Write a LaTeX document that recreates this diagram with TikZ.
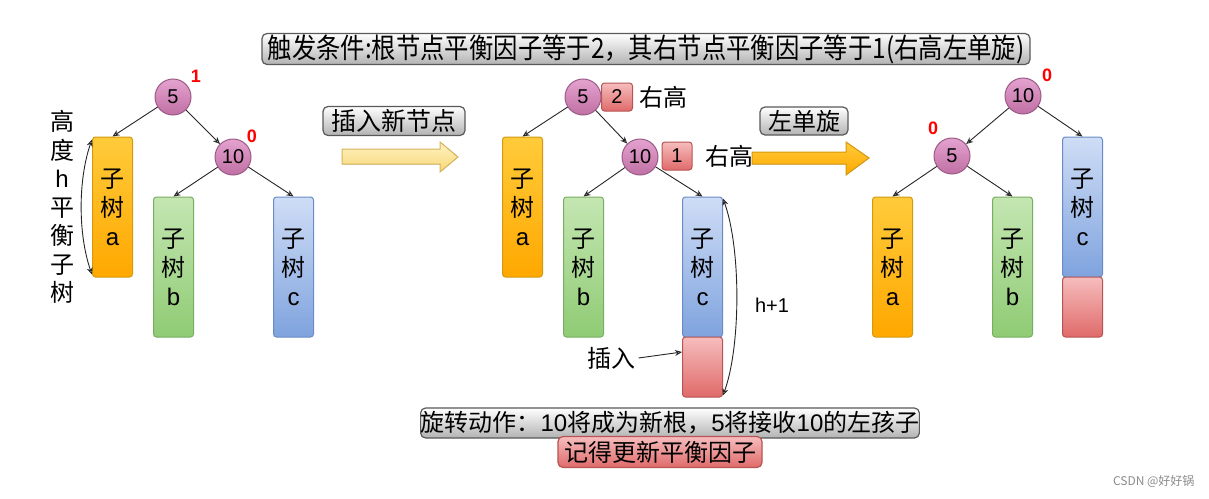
\documentclass[tikz,border=0pt]{standalone}
\usepackage{fontspec}
\setmainfont{Noto Sans CJK SC}
\newfontfamily\lat{Liberation Sans}
\usetikzlibrary{arrows.meta}
\definecolor{pinktop}{HTML}{E4A2CF}
\definecolor{pinkbot}{HTML}{C070A4}
\definecolor{pinkline}{HTML}{9C5A86}
\definecolor{ortop}{HTML}{FFCB3A}
\definecolor{orbot}{HTML}{FFA800}
\definecolor{orline}{HTML}{D39A10}
\definecolor{grtop}{HTML}{C4E6B2}
\definecolor{grbot}{HTML}{8FCB74}
\definecolor{grline}{HTML}{78AE62}
\definecolor{bltop}{HTML}{CFDDF6}
\definecolor{blbot}{HTML}{7FA3DE}
\definecolor{blline}{HTML}{6A8BC6}
\definecolor{rdtop}{HTML}{F6BDBD}
\definecolor{rdbot}{HTML}{E06A6A}
\definecolor{rdline}{HTML}{B85454}
\definecolor{yltop}{HTML}{FFF3C4}
\definecolor{ylbot}{HTML}{F7D676}
\definecolor{ylline}{HTML}{D6B45A}
\tikzset{
  circ/.style={circle, draw=pinkline, line width=1pt, top color=pinktop, bottom color=pinkbot,
    minimum size=36pt, inner sep=0pt, font=\lat\fontsize{20}{20}\selectfont},
  tree/.style={rectangle, rounded corners=3pt, line width=1pt, minimum width=40pt,
    minimum height=140pt, align=center, inner sep=0pt, font=\fontsize{24}{29}\selectfont},
  ta/.style={tree, draw=orline, top color=ortop, bottom color=orbot},
  tb/.style={tree, draw=grline, top color=grtop, bottom color=grbot},
  tc/.style={tree, draw=blline, top color=bltop, bottom color=blbot},
  tred/.style={rectangle, rounded corners=3pt, line width=1pt, minimum width=40pt,
    minimum height=60pt, draw=rdline, top color=rdtop, bottom color=rdbot},
  bf/.style={rectangle, rounded corners=3pt, line width=1pt, minimum width=31pt,
    minimum height=28pt, inner sep=0pt, draw=rdline, top color=rdtop, bottom color=rdbot,
    font=\lat\fontsize{20}{20}\selectfont},
  gbox/.style={rectangle, rounded corners=5pt, line width=1.2pt, draw=black!65,
    top color=white, bottom color=black!30, inner sep=0pt},
  rbox/.style={rectangle, rounded corners=5pt, line width=1.2pt, draw=rdline,
    top color=rdtop, bottom color=rdbot, inner sep=0pt},
  redn/.style={text=red, font=\lat\bfseries\fontsize{18}{18}\selectfont},
  lbl/.style={font=\fontsize{24}{24}\selectfont},
  edge/.style={-{Stealth[open,length=7pt,width=6pt]}, line width=0.9pt, black!85},
  dbl/.style={{Stealth[open,length=7pt,width=6pt]}-{Stealth[open,length=7pt,width=6pt]}, line width=0.9pt, black!85},
}
\begin{document}
\begin{tikzpicture}[x=1pt,y=-1pt]
\useasboundingbox[fill=white] (0,0) rectangle (1209,498);

% banner
\node[gbox, minimum width=768pt, minimum height=31pt] (banner) at (646,49)
  {\fontsize{28}{28}\selectfont\scalebox{0.87}[1]{触发条件:根节点平衡因子等于2，其右节点平衡因子等于1(右高左单旋)}};

% ---------- left tree ----------
\node[circ] (l5) at (173,97) {5};
\node[circ] (l10) at (233,157) {10};
\node[redn] (l5b) at (196,76) {1};
\node[redn] (l10b) at (252,136) {0};
\node[ta] (la) at (112.5,207) {子\\树\\{\lat a}};
\node[tb] (lb) at (173.5,267) {子\\树\\{\lat b}};
\node[tc] (lc) at (293.5,267) {子\\树\\{\lat c}};
\draw[edge] (l5) -- (la.north);
\draw[edge] (l5) -- (l10);
\draw[edge] (l10) -- (lb.north);
\draw[edge] (l10) -- (lc.north);
\draw[dbl] ([yshift=-3pt]la.north west) .. controls +(-14,40) and +(-14,-40) .. ([yshift=3pt]la.south west);
\node[align=center, font=\fontsize{24}{28.5}\selectfont] (lh) at (62,207) {高\\度\\{\lat h}\\平\\衡\\子\\树};

% ---------- insert label + arrow ----------
\node[gbox, minimum width=142pt, minimum height=29pt] (insbox) at (394,121)
  {\fontsize{25}{25}\selectfont 插入新节点};
\filldraw[draw=ylline, line width=1pt, top color=yltop, bottom color=ylbot]
  (342,149) -- (440,149) -- (440,142) -- (458,157) -- (440,172) -- (440,164) -- (342,164) -- cycle;

% ---------- middle tree ----------
\node[circ] (m5) at (583,97) {5};
\node[circ] (m10) at (640,157) {10};
\node[bf] (m5b) at (617,97) {2};
\node[bf, minimum width=30pt] (m10b) at (677,156) {1};
\node[lbl, anchor=west] (m5t) at (636,97) {右高};
\node[lbl, anchor=west] (m10t) at (702,156) {右高};
\node[ta] (ma) at (522.5,207) {子\\树\\{\lat a}};
\node[tb] (mb) at (583.5,267) {子\\树\\{\lat b}};
\node[tc] (mc) at (702.5,267) {子\\树\\{\lat c}};
\node[tred] (mins) at (702.5,367) {};
\draw[edge] (m5) -- (ma.north);
\draw[edge] (m5) -- (m10);
\draw[edge] (m10) -- (mb.north);
\draw[edge] (m10) -- (mc.north);
\node[lbl] (minst) at (611,358) {插入};
\draw[edge] (minst.east) -- ([yshift=15pt]mins.west);
\draw[dbl] ([yshift=-2pt]mc.north east) .. controls +(18,50) and +(18,-50) .. ([yshift=2pt]mins.south east);
\node[font=\lat\fontsize{20}{20}\selectfont] (h1) at (772,305) {h+1};

% ---------- rotate label + arrow ----------
\node[gbox, minimum width=88pt, minimum height=28pt] (rotbox) at (804,121)
  {\fontsize{24}{24}\selectfont 左单旋};
\filldraw[draw=orline, line width=1pt, top color=ortop, bottom color=orbot]
  (752,152) -- (846,152) -- (846,142) -- (869,158) -- (846,175) -- (846,164) -- (752,164) -- cycle;

% ---------- right tree ----------
\node[circ] (r10) at (1023,96) {10};
\node[circ] (r5) at (952,156) {5};
\node[redn] (r10b) at (1047,75) {0};
\node[redn] (r5b) at (933,128) {0};
\node[ta] (ra) at (892.5,267) {子\\树\\{\lat a}};
\node[tb] (rb) at (1012.5,267) {子\\树\\{\lat b}};
\node[tc] (rc) at (1082.5,207) {子\\树\\{\lat c}};
\node[tred] (rins) at (1082.5,307) {};
\draw[edge] (r10) -- (r5);
\draw[edge] (r10) -- (rc.north);
\draw[edge] (r5) -- (ra.north);
\draw[edge] (r5) -- (rb.north);

% ---------- bottom notes ----------
\node[gbox, minimum width=496pt, minimum height=30pt] (act) at (670,423)
  {\fontsize{24}{24}\selectfont 旋转动作：{\lat 10}将成为新根，{\lat 5}将接收{\lat 10}的左孩子};
\node[rbox, minimum width=204pt, minimum height=31pt] (upd) at (660,452)
  {\fontsize{24}{24}\selectfont 记得更新平衡因子};

\node[text=black!45, font=\fontsize{12}{12}\selectfont, anchor=east] (wm) at (1198,481) {CSDN @好好锅};
\end{tikzpicture}
\end{document}
